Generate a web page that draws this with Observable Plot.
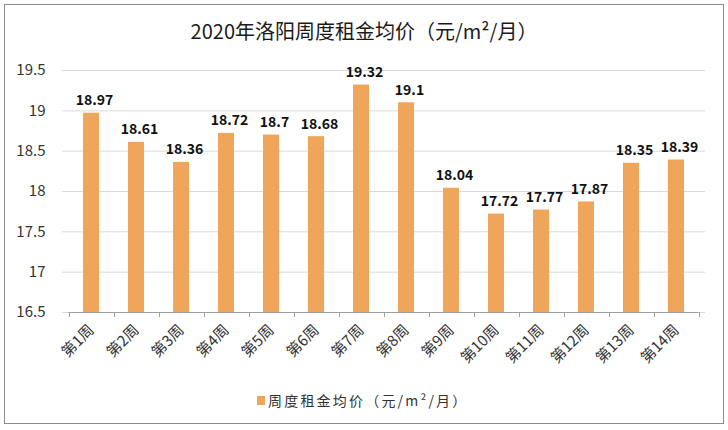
<!DOCTYPE html>
<html><head><meta charset="utf-8">
<script src="https://cdn.jsdelivr.net/npm/d3@7"></script>
<script src="https://cdn.jsdelivr.net/npm/@observablehq/plot@0.6"></script>
<style>
body{margin:0;background:#fff;font-family:"Noto Sans CJK SC","Noto Sans",sans-serif;}
#wrap{position:relative;width:728px;height:430px;overflow:hidden;}
#frame{position:absolute;left:4px;top:4px;width:720px;height:420px;border:1px solid #8c8c8c;box-sizing:border-box;}
#title{position:absolute;left:0;width:728px;top:16px;text-align:center;font-size:20px;color:#1a1a1a;}
#legend{position:absolute;left:257px;top:390px;font-size:14px;letter-spacing:2.2px;color:#333;display:flex;align-items:center;}
#legend i{display:inline-block;width:8px;height:9px;background:#EFA65A;margin-right:3px;}
#chart{position:absolute;left:0;top:0;}
</style></head>
<body><div id="wrap"><div id="frame"></div><div id="title">2020年洛阳周度租金均价（元/m²/月）</div><div id="chart"></div><div id="legend"><i></i>周度租金均价（元/m²/月）</div></div>
<script>
const weeks = ["第1周","第2周","第3周","第4周","第5周","第6周","第7周","第8周","第9周","第10周","第11周","第12周","第13周","第14周"];
const rents = [18.97,18.61,18.36,18.72,18.7,18.68,19.32,19.1,18.04,17.72,17.77,17.87,18.35,18.39];
const yTicks = [16.5,17,17.5,18,18.5,19,19.5];
const data = weeks.map((w,i)=>({week:w, rent:rents[i]}));

function bandTicks(index, scales, values, dims) {
  const x = scales.x, y = scales.y;
  const g = d3.create("svg:g").attr("stroke","#a0a0a0").attr("stroke-width",1);
  const step = x.step ? x.step() : x.bandwidth();
  const bw = x.bandwidth();
  const y0 = y(16.5);
  const bounds = weeks.map(w => x(w) + bw/2 - step/2);
  bounds.push(x(weeks[weeks.length-1]) + bw/2 + step/2);
  g.append("line").attr("x1",bounds[0]).attr("x2",bounds[bounds.length-1]).attr("y1",y0+0.5).attr("y2",y0+0.5);
  for (const b of bounds) g.append("line").attr("x1",Math.round(b)+0.5).attr("x2",Math.round(b)+0.5).attr("y1",y0).attr("y2",y0+5);
  return g.node();
}

const plot = Plot.plot({
  width: 728, height: 380,
  marginTop: 70, marginBottom: 68, marginLeft: 62, marginRight: 23,
  style: {fontFamily: '"Noto Sans CJK SC","Noto Sans",sans-serif', background: "transparent"},
  x: {domain: weeks, paddingInner: 0.65, paddingOuter: 0.325, label: null},
  y: {domain: [16.5, 19.5], label: null},
  marks: [
    Plot.gridY(yTicks, {stroke: "#d9d9d9", strokeOpacity: 1}),
    Plot.axisY(yTicks, {tickSize: 0, tickPadding: 17, fontSize: 15, fill: "#333", tickFormat: d => String(d), label: null}),
    Plot.barY(data, {x: "week", y1: 16.5, y2: "rent", fill: "#EFA65A"}),
    bandTicks,
    Plot.axisX({tickSize: 0, tickRotate: -45, tickPadding: 15, fontSize: 15, fill: "#333", label: null}),
    Plot.text(data, {x: "week", y: "rent", text: d => String(d.rent), dy: -8, lineAnchor: "bottom", fontSize: 14, fontWeight: "bold", fill: "#111", dx: 3})
  ]
});
document.getElementById("chart").appendChild(plot);
</script></body></html>
